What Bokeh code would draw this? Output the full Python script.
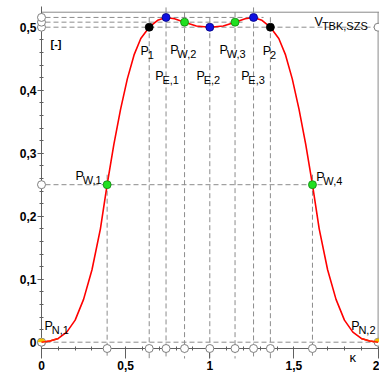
from bokeh.plotting import figure
from bokeh.models import Range1d, FixedTicker, CustomJSTickFormatter, LinearAxis
from bokeh.core.properties import value
from bokeh.embed import file_html
from bokeh.resources import INLINE
import math

# ---------------- data ----------------
curve_x = [0.00, 0.05, 0.10, 0.15, 0.20, 0.25, 0.30, 0.35, 0.39, 0.43, 0.47, 0.51, 0.55, 0.59,
           0.64, 0.69, 0.74, 0.79, 0.85, 0.92, 1.00,
           1.08, 1.15, 1.21, 1.26, 1.31, 1.36, 1.41, 1.45, 1.49, 1.53, 1.57, 1.61, 1.65, 1.70,
           1.75, 1.80, 1.85, 1.90, 1.95, 2.00]
curve_y = [0.000, 0.002, 0.006, 0.016, 0.035, 0.068, 0.115, 0.180, 0.250, 0.314, 0.370, 0.418, 0.456, 0.482,
           0.500, 0.511, 0.5155, 0.5135, 0.508, 0.502, 0.500,
           0.502, 0.508, 0.5135, 0.5155, 0.511, 0.500, 0.482, 0.456, 0.418, 0.370, 0.314, 0.250, 0.180, 0.115,
           0.068, 0.035, 0.016, 0.006, 0.002, 0.000]

# characteristic points
pt_main = ["P", "P", "P", "P", "P", "P", "P", "P", "P", "P", "P", "V"]
pt_sub = ["1", "E,1", "W,2", "E,2", "W,3", "E,3", "2", "W,1", "W,4", "N,1", "N,2", "TBK,SZS"]
pt_x = [0.64, 0.74, 0.85, 1.00, 1.15, 1.26, 1.36, 0.39, 1.61, 0.00, 2.00, 2.00]
pt_y = [0.500, 0.5155, 0.508, 0.500, 0.508, 0.5155, 0.500, 0.250, 0.250, 0.000, 0.000, 0.500]
pt_kind = ["P", "E", "W", "E", "W", "E", "P", "W", "W", "N", "N", "V"]

x_ticks = [0, 0.5, 1, 1.5, 2]
y_ticks = [0, 0.1, 0.2, 0.3, 0.4, 0.5]
x_minor = [i / 10 for i in range(21)]
y_minor = [i / 50 for i in range(27)]
axis_unit_label = "[-]"
x_var_label = "κ"

# ---------------- geometry helpers ----------------
W, H = 379, 374
X0_PX, SX = 41.0, 168.3      # x=0 at pixel 41, pixels per unit
Y0_PX, SY = 341.7, 630.0     # y=0 at pixel 341.7, pixels per unit
AXIS_Y = -0.01               # x axis sits slightly below y=0


def dx(px):
    return px / SX


def dy(px):
    return px / SY


p = figure(width=W, height=H, output_backend="svg", toolbar_location=None,
           x_range=Range1d(-X0_PX / SX, (W - X0_PX) / SX),
           y_range=Range1d((Y0_PX - H) / SY, Y0_PX / SY),
           x_axis_location=None, y_axis_location=None, min_border=0)
p.outline_line_color = None
p.grid.visible = False
p.background_fill_color = "white"
p.border_fill_color = "white"

TOP = 0.5238
XR = (W - X0_PX) / SX

# frame (top and right)
p.segment(x0=[0, 2], y0=[TOP, AXIS_Y], x1=[XR, 2], y1=[TOP, TOP], line_color="#8a8a8a", line_width=1)

# dashed helper lines
levels = sorted(set(pt_y))
hx0, hx1, hy = [], [], []
for lv in levels:
    xs = [x for x, y in zip(pt_x, pt_y) if y == lv]
    hx0.append(-dx(4))
    hx1.append(min(max(xs) + dx(10), XR))
    hy.append(lv)
p.segment(x0=hx0, y0=hy, x1=hx1, y1=hy, line_color="#8c8c8c", line_width=1, line_dash="5 3")

vx, vy0, vy1 = [], [], []
for x, y in zip(pt_x, pt_y):
    if 0 < x < 2:
        vx.append(x)
        vy0.append(y + dy(10))
        vy1.append(AXIS_Y - dy(10))
p.segment(x0=vx, y0=vy0, x1=vx, y1=vy1, line_color="#8c8c8c", line_width=1, line_dash="5 3")

# curve
p.line(curve_x, curve_y, line_color="#ff0000", line_width=1.6)

# axes
fmt = CustomJSTickFormatter(code="return String(tick).replace('.', ',');")
xaxis = LinearAxis(fixed_location=AXIS_Y,
                   ticker=FixedTicker(ticks=x_ticks, minor_ticks=x_minor),
                   formatter=fmt, bounds=(0, XR))
yaxis = LinearAxis(fixed_location=0,
                   ticker=FixedTicker(ticks=y_ticks, minor_ticks=y_minor),
                   formatter=fmt, bounds=(AXIS_Y - dy(3), TOP + dy(6)))
for ax in (xaxis, yaxis):
    ax.axis_line_color = "#606060"
    ax.major_tick_line_color = "#606060"
    ax.minor_tick_line_color = "#606060"
    ax.major_label_text_font = "Liberation Sans"
    ax.major_label_text_font_style = "bold"
    ax.major_label_text_font_size = "12px"
    ax.major_label_text_color = "black"
    ax.minor_tick_in = 2
    ax.minor_tick_out = 2
xaxis.major_tick_in = 0
xaxis.major_tick_out = 10
xaxis.major_label_standoff = 2
yaxis.major_tick_in = 2
yaxis.major_tick_out = 4
yaxis.major_label_standoff = 1
p.add_layout(xaxis, "below")
p.add_layout(yaxis, "left")

# projection circles on the axes
yax_levels = levels
p.scatter(x=[0] * len(yax_levels), y=yax_levels, size=8, fill_color="white",
          line_color="#808080", line_width=1, level="overlay")
xax_pos = [x for x in pt_x if 0 < x < 2]
p.scatter(x=xax_pos, y=[AXIS_Y] * len(xax_pos), size=8, fill_color="white",
          line_color="#808080", line_width=1, level="overlay")
vx_edge = [x for x, k in zip(pt_x, pt_kind) if k == "V"]
vy_edge = [y for y, k in zip(pt_y, pt_kind) if k == "V"]
p.scatter(x=vx_edge, y=vy_edge, size=8, fill_color="white", line_color="#808080", level="overlay")

# end points (N): half white, half yellow
nx = [x for x, k in zip(pt_x, pt_kind) if k == "N"]
ny = [y for y, k in zip(pt_y, pt_kind) if k == "N"]
p.scatter(x=nx, y=ny, size=8, fill_color="white", line_color="#808080", level="overlay")
p.wedge(x=nx, y=ny, radius=3.6, radius_units="screen", start_angle=0, end_angle=math.pi,
        fill_color="#f2c200", line_color=None, level="overlay")
p.line(curve_x[:3], curve_y[:3], line_color="#ff2000", line_width=1.6, level="overlay")
p.line(curve_x[-3:], curve_y[-3:], line_color="#ff2000", line_width=1.6, level="overlay")

# characteristic points
kind_fill = {"P": "#000000", "E": "#1010e0", "W": "#20e020"}
kind_line = {"P": "#000000", "E": "#000080", "W": "#108010"}
sx = [x for x, k in zip(pt_x, pt_kind) if k in kind_fill]
sy = [y for y, k in zip(pt_y, pt_kind) if k in kind_fill]
sf = [kind_fill[k] for k in pt_kind if k in kind_fill]
sl = [kind_line[k] for k in pt_kind if k in kind_fill]
p.scatter(x=sx, y=sy, size=8, fill_color=sf, line_color=sl, line_width=0.8, level="overlay")

# labels: pixel offsets of the "P" anchor (left, baseline) from each point
lab_off = {
    "1": (-8.7, 23.3), "E,1": (-10.8, 58.1), "W,2": (-14.4, 28.3), "E,2": (-13.3, 48.3),
    "W,3": (-15.5, 28.3), "E,3": (-12.4, 58.1), "2": (-7.6, 23.3), "W,1": (-31.6, -9.2),
    "W,4": (3.7, -7.5), "N,1": (3.0, -16.7), "N,2": (-26.9, -16.7), "TBK,SZS": (-63.6, -5.7),
}
ox = [lab_off[s][0] for s in pt_sub]
oy = [lab_off[s][1] for s in pt_sub]
main_w = [7.2 if m == "P" else 7.4 for m in pt_main]
p.text(x=pt_x, y=pt_y, text=pt_main, x_offset=ox, y_offset=oy,
       text_font=value("Liberation Sans"), text_font_size="12.5px", text_color="black",
       text_align="left", text_baseline="alphabetic", level="overlay")
p.text(x=pt_x, y=pt_y, text=pt_sub, x_offset=[o + w for o, w in zip(ox, main_w)],
       y_offset=[o + 4 for o in oy],
       text_font=value("Liberation Sans"), text_font_size="11px", text_color="black",
       text_align="left", text_baseline="alphabetic", level="overlay")

p.text(x=[0], y=[0.5], text=[axis_unit_label], x_offset=[9], y_offset=[17],
       text_font=value("Liberation Sans"), text_font_size="11px", text_font_style="bold",
       text_align="left", text_baseline="alphabetic", level="overlay")
p.text(x=[2], y=[AXIS_Y], text=[x_var_label], x_offset=[-28.6], y_offset=[9],
       text_font=value("Liberation Sans"), text_font_size="13px",
       text_align="left", text_baseline="alphabetic", level="overlay")

open("out.html", "w").write(file_html(p, INLINE))
